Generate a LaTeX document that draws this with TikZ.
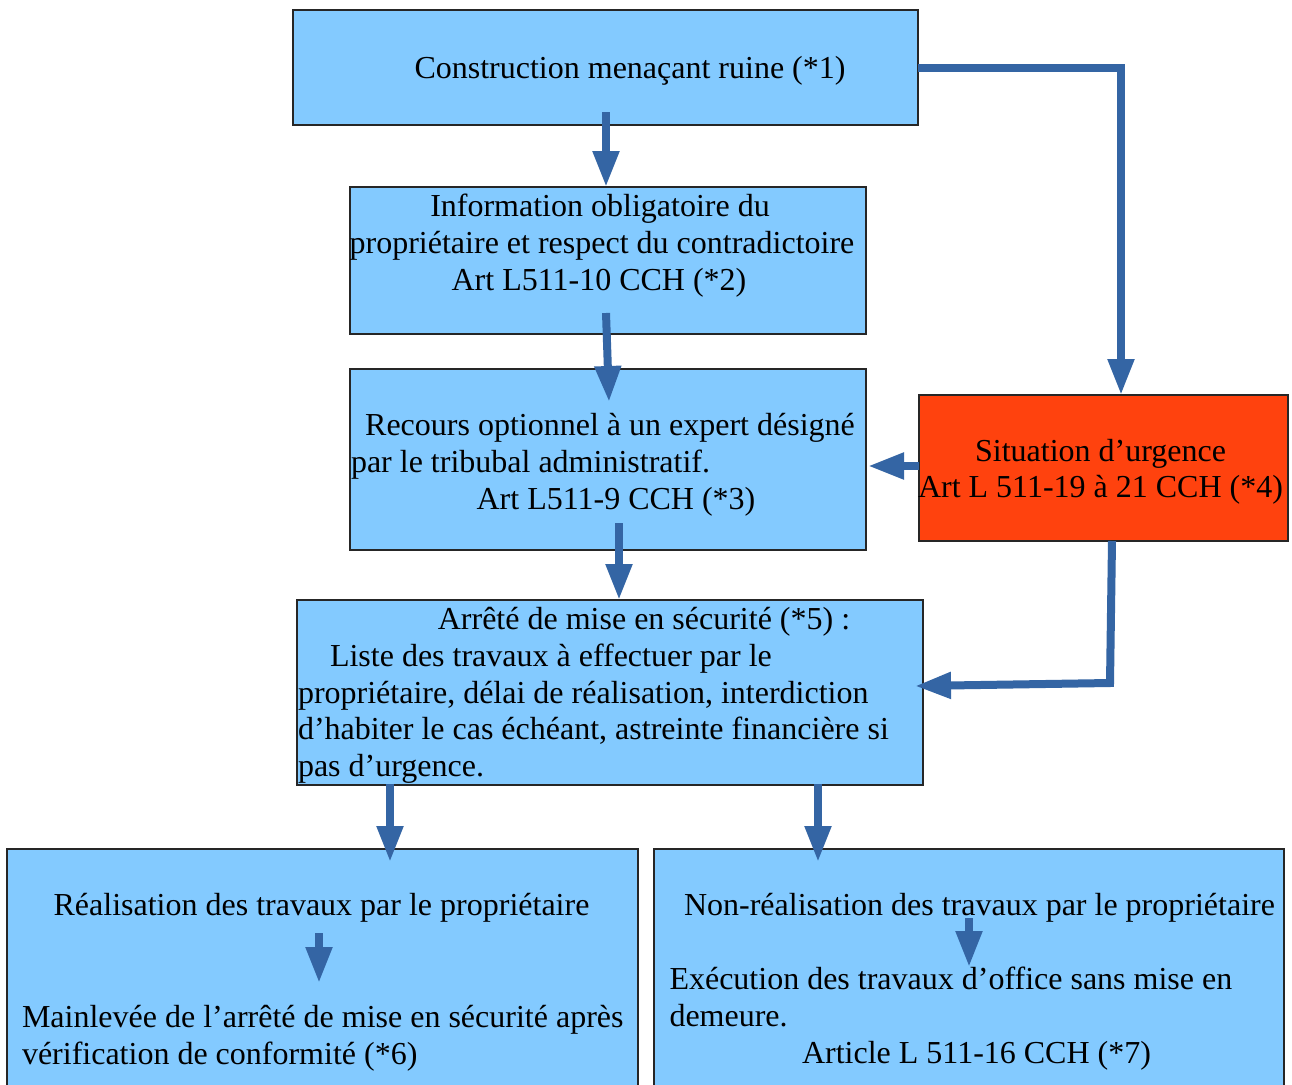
\documentclass[tikz,border=0pt]{standalone}
\usepackage{fontspec}
\setmainfont{Liberation Serif}
\usetikzlibrary{arrows.meta}
\definecolor{boxblue}{HTML}{83CAFF}
\definecolor{boxred}{HTML}{FF420E}
\definecolor{arrblue}{HTML}{3465A4}
\begin{document}
\begin{tikzpicture}[x=1pt,y=-1pt,
  box/.style={draw=black!85,line width=1.1pt,fill=boxblue,rectangle,inner sep=0pt,outer sep=0pt},
  redbox/.style={box,fill=boxred},
  arr/.style={draw=arrblue,line width=8pt,-{Triangle[length=36pt,width=25pt]}},
  txt/.style={inner sep=0pt,outer sep=0pt,font=\fontsize{32}{36.8}\selectfont}]
\useasboundingbox (0,0) rectangle (1292,1084);
\clip (0,0) rectangle (1292,1084);
\fill[white] (0,0) rectangle (1292,1084);
% boxes
\node[box,minimum width=625pt,minimum height=115pt] (b1) at (605.5,67.5) {};
\node[box,minimum width=516pt,minimum height=147pt] (b2) at (608,260.5) {};
\node[box,minimum width=516pt,minimum height=181pt] (b3) at (608,459.5) {};
\node[redbox,minimum width=369pt,minimum height=146pt] (b4) at (1103.5,468) {};
\node[box,minimum width=626pt,minimum height=185pt] (b5) at (610,692.5) {};
\node[box,minimum width=631pt,minimum height=260pt] (b6) at (322.5,979) {};
\node[box,minimum width=630pt,minimum height=260pt] (b7) at (969,979) {};
% texts
\node[txt,anchor=base] (t1) at (630,78) {Construction menaçant ruine (*1)};
\node[txt,anchor=base] (t2a) at (600,216.5) {Information obligatoire du};
\node[txt,anchor=base] (t2b) at (602,253.3) {propriétaire et respect du contradictoire};
\node[txt,anchor=base] (t2c) at (599,290.1) {Art L511-10 CCH (*2)};
\node[txt,anchor=base] (t3a) at (610,435.5) {Recours optionnel à un expert désigné};
\node[txt,anchor=base west] (t3b) at (351,472.3) {par le tribubal administratif.};
\node[txt,anchor=base] (t3c) at (616,509.1) {Art L511-9 CCH (*3)};
\node[txt,anchor=base] (t4a) at (1100.5,461) {Situation d’urgence};
\node[txt,anchor=base] (t4b) at (1100.5,497.5) {Art L 511-19 à 21 CCH (*4)};
\node[txt,anchor=base] (t5a) at (644,629.5) {Arrêté de mise en sécurité (*5) :};
\node[txt,anchor=base west] (t5b) at (330,666.3) {Liste des travaux à effectuer par le};
\node[txt,anchor=base west] (t5c) at (298,703.1) {propriétaire, délai de réalisation, interdiction};
\node[txt,anchor=base west] (t5d) at (298,739.9) {d’habiter le cas échéant, astreinte financière si};
\node[txt,anchor=base west] (t5e) at (298,776.7) {pas d’urgence.};
\node[txt,anchor=base] (t6a) at (321.5,915) {Réalisation des travaux par le propriétaire};
\node[txt,anchor=base west] (t6b) at (22,1027) {Mainlevée de l’arrêté de mise en sécurité après};
\node[txt,anchor=base west] (t6c) at (22,1064) {vérification de conformité (*6)};
\node[txt,anchor=base] (t7a) at (979.5,915) {Non-réalisation des travaux par le propriétaire};
\node[txt,anchor=base west] (t7b) at (669.5,989) {Exécution des travaux d’office sans mise en};
\node[txt,anchor=base west] (t7c) at (669.5,1026) {demeure.};
\node[txt,anchor=base] (t7d) at (976.5,1063) {Article L 511-16 CCH (*7)};
% connector coordinates
\coordinate (a1s) at (606,112);
\coordinate (a2s) at (606,313);
\coordinate (a2e) at (609,402);
\coordinate (a3s) at (619,523);
\coordinate (a4e) at (868,466);
\coordinate (a5c) at (1110,683);
\coordinate (a5e) at (915,686);
\coordinate (a6c) at (1121,68);
\coordinate (a7s) at (390,784);
\coordinate (a7e) at (390,862);
\coordinate (a8s) at (818,784);
\coordinate (a8e) at (818,862);
\coordinate (a9s) at (319,933);
\coordinate (a9e) at (319,983);
\coordinate (a10s) at (969,918);
\coordinate (a10e) at (969,967);
% connectors
\draw[arr] (a1s) -- (b2.north -| a1s);
\draw[arr] (a2s) -- (a2e);
\draw[arr] (a3s) -- (b5.north -| a3s);
\draw[arr] (b4.west |- a4e) -- (a4e);
\draw[arr,line join=miter] (b4.south -| 1112,0) -- (a5c) -- (a5e);
\draw[arr,line join=miter] (b1.east |- a6c) -- (a6c) -- (b4.north -| a6c);
\draw[arr] (a7s) -- (a7e);
\draw[arr] (a8s) -- (a8e);
\draw[arr] (a9s) -- (a9e);
\draw[arr] (a10s) -- (a10e);
\end{tikzpicture}
\end{document}
